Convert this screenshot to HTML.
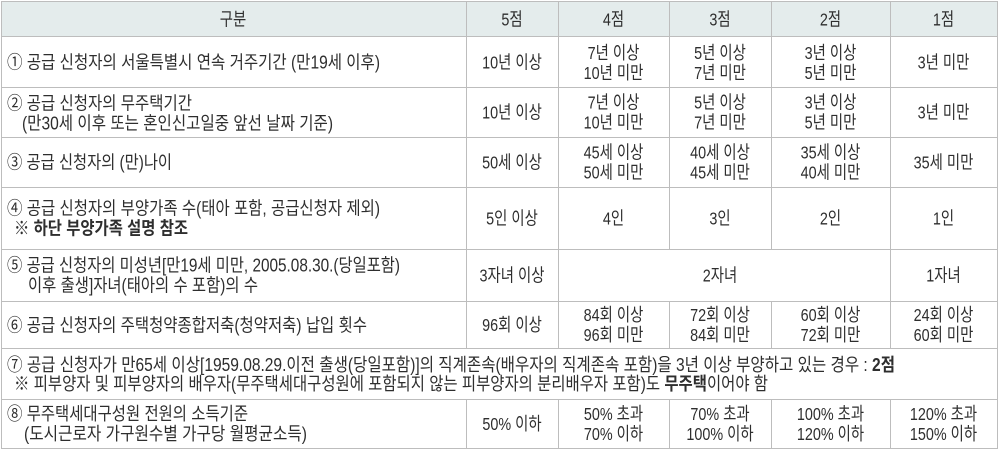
<!DOCTYPE html>
<html><head><meta charset="utf-8"><style>
html,body{margin:0;padding:0;background:#fff;}
svg{display:block;}
text{font-family:"Liberation Sans","Noto Sans CJK KR",sans-serif;font-size:18px;fill:#2e2e2e;}
.b{font-weight:bold;}
</style></head><body>
<svg width="1000" height="451" viewBox="0 0 1000 451" xmlns="http://www.w3.org/2000/svg">
<rect x="0" y="0" width="1000" height="451" fill="#fff"/>
<rect x="1" y="1" width="996" height="36" fill="#e4ecec"/>
<g stroke="#bdbdbd" stroke-width="1" fill="none">
<line x1="1" y1="1.5" x2="998" y2="1.5"/>
<line x1="1" y1="36.5" x2="998" y2="36.5"/>
<line x1="1" y1="87.5" x2="998" y2="87.5"/>
<line x1="1" y1="137.5" x2="998" y2="137.5"/>
<line x1="1" y1="187.5" x2="998" y2="187.5"/>
<line x1="1" y1="249.5" x2="998" y2="249.5"/>
<line x1="1" y1="301.5" x2="998" y2="301.5"/>
<line x1="1" y1="348.5" x2="998" y2="348.5"/>
<line x1="1" y1="399.5" x2="998" y2="399.5"/>
<line x1="1" y1="448.5" x2="998" y2="448.5"/>
<line x1="1.5" y1="1" x2="1.5" y2="449"/>
<line x1="997.5" y1="1" x2="997.5" y2="449"/>
<line x1="466.5" y1="1" x2="466.5" y2="348"/>
<line x1="466.5" y1="399" x2="466.5" y2="449"/>
<line x1="558.5" y1="1" x2="558.5" y2="348"/>
<line x1="558.5" y1="399" x2="558.5" y2="449"/>
<line x1="890.5" y1="1" x2="890.5" y2="348"/>
<line x1="890.5" y1="399" x2="890.5" y2="449"/>
<line x1="669.5" y1="1" x2="669.5" y2="249"/>
<line x1="669.5" y1="301" x2="669.5" y2="348"/>
<line x1="669.5" y1="399" x2="669.5" y2="449"/>
<line x1="771.5" y1="1" x2="771.5" y2="249"/>
<line x1="771.5" y1="301" x2="771.5" y2="348"/>
<line x1="771.5" y1="399" x2="771.5" y2="449"/>
</g>

<!-- left column -->
<text x="7" y="68.5" textLength="373" lengthAdjust="spacingAndGlyphs">① 공급 신청자의 서울특별시 연속 거주기간 (만19세 이후)</text>
<text x="7" y="109.5" textLength="185" lengthAdjust="spacingAndGlyphs">② 공급 신청자의 무주택기간</text>
<text x="22" y="129.5" textLength="311" lengthAdjust="spacingAndGlyphs">(만30세 이후 또는 혼인신고일중 앞선 날짜 기준)</text>
<text x="7" y="168.5" textLength="165" lengthAdjust="spacingAndGlyphs">③ 공급 신청자의 (만)나이</text>
<text x="7" y="214.5" textLength="373" lengthAdjust="spacingAndGlyphs">④ 공급 신청자의 부양가족 수(태아 포함, 공급신청자 제외)</text>
<text x="14" y="234.5" textLength="174" lengthAdjust="spacingAndGlyphs" class="b">※ 하단 부양가족 설명 참조</text>
<text x="7" y="271.5" textLength="393" lengthAdjust="spacingAndGlyphs">⑤ 공급 신청자의 미성년[만19세 미만, 2005.08.30.(당일포함)</text>
<text x="28" y="291.5" textLength="230" lengthAdjust="spacingAndGlyphs">이후 출생]자녀(태아의 수 포함)의 수</text>
<text x="7" y="331.5" textLength="360" lengthAdjust="spacingAndGlyphs">⑥ 공급 신청자의 주택청약종합저축(청약저축) 납입 횟수</text>
<text x="7" y="371" textLength="888" lengthAdjust="spacingAndGlyphs">⑦ 공급 신청자가 만65세 이상[1959.08.29.이전 출생(당일포함)]의 직계존속(배우자의 직계존속 포함)을 3년 이상 부양하고 있는 경우 : <tspan class="b">2점</tspan></text>
<text x="14" y="390" textLength="754" lengthAdjust="spacingAndGlyphs">※ 피부양자 및 피부양자의 배우자(무주택세대구성원에 포함되지 않는 피부양자의 분리배우자 포함)도 <tspan class="b">무주택</tspan>이어야 함</text>
<text x="7" y="420" textLength="241" lengthAdjust="spacingAndGlyphs">⑧ 무주택세대구성원 전원의 소득기준</text>
<text x="24" y="440" textLength="283" lengthAdjust="spacingAndGlyphs">(도시근로자 가구원수별 가구당 월평균소득)</text>

<g transform="scale(0.8 1)" text-anchor="middle">
<!-- header -->
<text x="291.3" y="25.5">구분</text>
<text x="640" y="25.5">5점</text>
<text x="766.9" y="25.5">4점</text>
<text x="900" y="25.5">3점</text>
<text x="1038.1" y="25.5">2점</text>
<text x="1179.4" y="25.5">1점</text>

<!-- row 1 -->
<text x="640" y="68.5">10년 이상</text>
<text x="766.9" y="59">7년 이상</text><text x="766.9" y="79">10년 미만</text>
<text x="900" y="59">5년 이상</text><text x="900" y="79">7년 미만</text>
<text x="1038.1" y="59">3년 이상</text><text x="1038.1" y="79">5년 미만</text>
<text x="1179.4" y="68.5">3년 미만</text>

<!-- row 2 -->
<text x="640" y="118.5">10년 이상</text>
<text x="766.9" y="108.5">7년 이상</text><text x="766.9" y="128.5">10년 미만</text>
<text x="900" y="108.5">5년 이상</text><text x="900" y="128.5">7년 미만</text>
<text x="1038.1" y="108.5">3년 이상</text><text x="1038.1" y="128.5">5년 미만</text>
<text x="1179.4" y="118.5">3년 미만</text>

<!-- row 3 -->
<text x="640" y="168.5">50세 이상</text>
<text x="766.9" y="158.5">45세 이상</text><text x="766.9" y="178.5">50세 미만</text>
<text x="900" y="158.5">40세 이상</text><text x="900" y="178.5">45세 미만</text>
<text x="1038.1" y="158.5">35세 이상</text><text x="1038.1" y="178.5">40세 미만</text>
<text x="1179.4" y="168.5">35세 미만</text>

<!-- row 4 -->
<text x="640" y="224.5">5인 이상</text>
<text x="766.9" y="224.5">4인</text>
<text x="900" y="224.5">3인</text>
<text x="1038.1" y="224.5">2인</text>
<text x="1179.4" y="224.5">1인</text>

<!-- row 5 -->
<text x="640" y="281.5">3자녀 이상</text>
<text x="900" y="281.5">2자녀</text>
<text x="1179.4" y="281.5">1자녀</text>

<!-- row 6 -->
<text x="640" y="331">96회 이상</text>
<text x="766.9" y="321">84회 이상</text><text x="766.9" y="341">96회 미만</text>
<text x="900" y="321">72회 이상</text><text x="900" y="341">84회 미만</text>
<text x="1038.1" y="321">60회 이상</text><text x="1038.1" y="341">72회 미만</text>
<text x="1179.4" y="321">24회 이상</text><text x="1179.4" y="341">60회 미만</text>

<!-- row 8 -->
<text x="640" y="430">50% 이하</text>
<text x="766.9" y="420">50% 초과</text><text x="766.9" y="440">70% 이하</text>
<text x="900" y="420">70% 초과</text><text x="900" y="440">100% 이하</text>
<text x="1038.1" y="420">100% 초과</text><text x="1038.1" y="440">120% 이하</text>
<text x="1179.4" y="420">120% 초과</text><text x="1179.4" y="440">150% 이하</text>
</g>
</svg>
</body></html>
